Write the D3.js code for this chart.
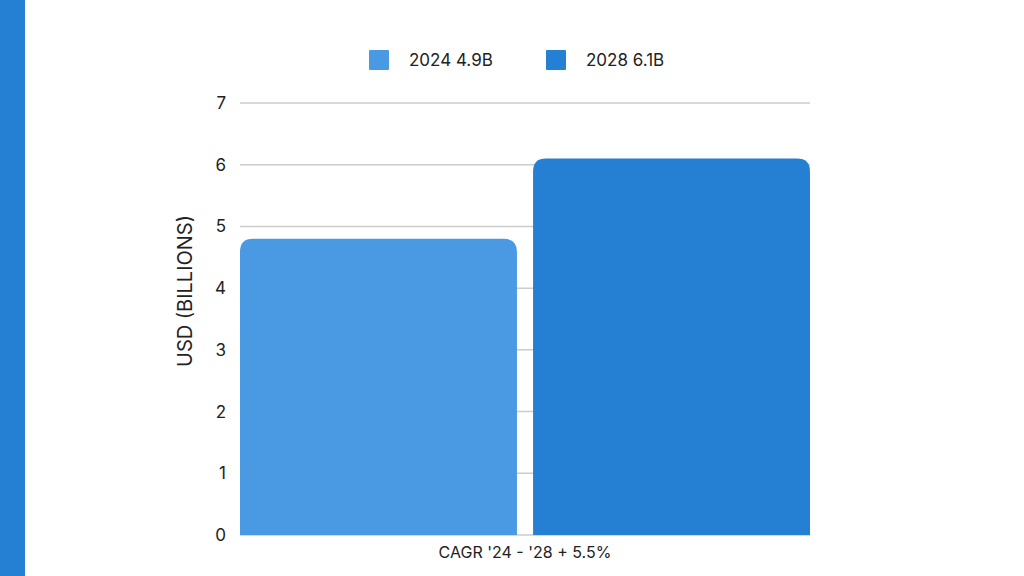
<!DOCTYPE html>
<html>
<head>
<meta charset="utf-8">
<script src="https://cdn.jsdelivr.net/npm/d3@7"></script>
<style>
  body { margin: 0; background: #fff; }
  text { font-family: Inter, sans-serif; fill: #222; }
</style>
</head>
<body>
<div id="chart"></div>
<script>
// data
var years = ["2024", "2028"];
var values = [4.8, 6.1];
var legendLabels = ["2024 4.9B", "2028 6.1B"];
var colors = ["#4a9ae3", "#2580d3"];
var yTicks = [0, 1, 2, 3, 4, 5, 6, 7];

var W = 1024, H = 576;
var margin = {top: 103, right: 214, bottom: 41, left: 240},
    width = W - margin.left - margin.right,
    height = H - margin.top - margin.bottom;

var root = d3.select("#chart")
    .append("svg")
        .attr("width", W)
        .attr("height", H);

// left stripe
root.append("rect")
    .attr("x", 0).attr("y", 0)
    .attr("width", 25).attr("height", H)
    .attr("fill", "#2580d3");

var svg = root.append("g")
    .attr("transform", "translate(" + margin.left + "," + margin.top + ")");

var x = d3.scaleBand()
    .domain(years)
    .range([0, width])
    .paddingInner(0.055)
    .paddingOuter(0);

var y = d3.scaleLinear()
    .domain([0, 7])
    .range([height, 0]);

// gridlines
svg.append("g")
    .selectAll("line")
    .data(yTicks)
    .enter()
    .append("line")
        .attr("x1", 0).attr("x2", width)
        .attr("y1", function(d){ return y(d); })
        .attr("y2", function(d){ return y(d); })
        .attr("stroke", "#cccccc")
        .attr("stroke-width", 1.5);

// tick labels
var yAxis = d3.axisLeft(y).tickValues(yTicks).tickFormat(d3.format("d")).tickSize(0).tickPadding(14);
var yg = svg.append("g").call(yAxis);
yg.select(".domain").remove();
yg.selectAll("text")
    .style("font-family", "Inter, sans-serif")
    .style("font-size", "17px")
    .attr("fill", "#222");

// bars with rounded tops
var r = 13;
function barPath(d, i) {
    var x0 = x(years[i]), x1 = x0 + x.bandwidth();
    var y0 = y(d), yb = y(0);
    return "M" + x0 + "," + yb +
        "L" + x0 + "," + (y0 + r) +
        "Q" + x0 + "," + y0 + " " + (x0 + r) + "," + y0 +
        "L" + (x1 - r) + "," + y0 +
        "Q" + x1 + "," + y0 + " " + x1 + "," + (y0 + r) +
        "L" + x1 + "," + yb + "Z";
}
svg.append("g")
    .selectAll("path")
    .data(values)
    .enter()
    .append("path")
        .attr("d", barPath)
        .attr("fill", function(d, i){ return colors[i]; });

// x label
svg.append("text")
    .attr("x", width / 2)
    .attr("y", height + 23)
    .style("text-anchor", "middle")
    .style("font-size", "16px")
    .text("CAGR '24 - '28 + 5.5%");

// y title
root.append("text")
    .attr("transform", "translate(192,291) rotate(-90)")
    .style("text-anchor", "middle")
    .style("font-size", "20px")
    .text("USD (BILLIONS)");

// legend
var legendX = [369, 546];
var lg = root.append("g")
    .selectAll("g")
    .data(legendLabels)
    .enter()
    .append("g")
        .attr("transform", function(d, i){ return "translate(" + legendX[i] + ",50)"; });
lg.append("rect")
    .attr("width", 20).attr("height", 20)
    .attr("rx", 1)
    .attr("fill", function(d, i){ return colors[i]; });
lg.append("text")
    .attr("x", 40).attr("y", 16)
    .style("font-size", "17px")
    .text(function(d){ return d; });
</script>
</body>
</html>
